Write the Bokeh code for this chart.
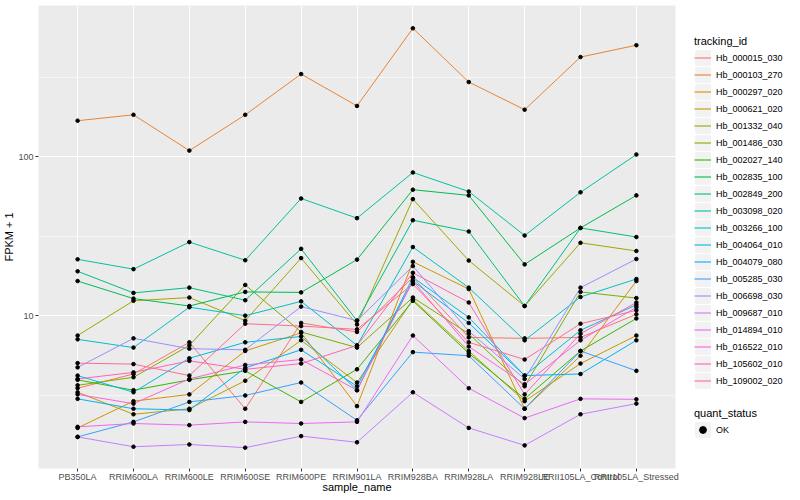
from bokeh.plotting import figure
from bokeh.models import Range1d, FactorRange, FixedTicker, Legend, LegendItem
from bokeh.layouts import row
from bokeh.embed import file_html
from bokeh.resources import INLINE

samples = ["PB350LA", "RRIM600LA", "RRIM600LE", "RRIM600SE", "RRIM600PE", "RRIM901LA",
           "RRIM928BA", "RRIM928LA", "RRIM928LE", "RRII105LA_Control", "RRII105LA_Stressed"]

tracking_ids = ["Hb_000015_030", "Hb_000103_270", "Hb_000297_020", "Hb_000621_020",
                "Hb_001332_040", "Hb_001486_030", "Hb_002027_140", "Hb_002835_100",
                "Hb_002849_200", "Hb_003098_020", "Hb_003266_100", "Hb_004064_010",
                "Hb_004079_080", "Hb_005285_030", "Hb_006698_030", "Hb_009687_010",
                "Hb_014894_010", "Hb_016522_010", "Hb_105602_010", "Hb_109002_020"]

colors = ["#F8766D", "#EA8331", "#D89000", "#C09B00", "#A3A500", "#7CAE00", "#39B600",
          "#00BB4E", "#00BF7D", "#00C1A3", "#00BFC4", "#00BAE0", "#00B0F6", "#35A2FF",
          "#9590FF", "#C77CFF", "#E76BF3", "#FA62DB", "#FF62BC", "#FF6C91"]

Hb_000015_030 = [3.5, 4.3, 6.8, 2.6, 9.0, 7.9, 17.4, 7.3, 7.2, 7.3, 10.2]
Hb_000103_270 = [168, 183, 109, 183, 330, 208, 640, 294, 197, 422, 501]
Hb_000297_020 = [1.97, 2.9, 3.2, 6.0, 7.8, 2.7, 21.8, 14.7, 2.6, 5.6, 16.5]
Hb_000621_020 = [3.3, 2.4, 2.6, 3.9, 7.0, 3.8, 12.6, 6.0, 2.9, 5.0, 7.5]
Hb_001332_040 = [7.5, 12.4, 13.0, 9.3, 23.0, 8.8, 54.0, 22.2, 11.5, 28.7, 25.5]
Hb_001486_030 = [3.65, 4.1, 6.5, 15.6, 7.9, 6.3, 13.0, 7.7, 3.6, 14.1, 12.9]
Hb_002027_140 = [3.95, 3.4, 3.95, 4.5, 2.87, 4.6, 12.4, 5.8, 3.0, 6.0, 9.6]
Hb_002835_100 = [16.5, 12.8, 11.5, 14.1, 14.0, 22.5, 61.9, 57.0, 21.0, 35.6, 57.0]
Hb_002849_200 = [19.0, 13.9, 15.0, 12.5, 26.3, 9.3, 39.8, 33.8, 11.5, 35.6, 31.2]
Hb_003098_020 = [22.6, 19.6, 29.0, 22.3, 54.5, 41.0, 79.4, 60.3, 31.9, 59.6, 103]
Hb_003266_100 = [7.1, 6.3, 11.3, 10.0, 12.3, 6.5, 27.0, 15.0, 7.0, 13.1, 17.0]
Hb_004064_010 = [4.2, 3.3, 5.4, 6.8, 7.4, 3.4, 17.4, 9.75, 4.2, 8.1, 11.7]
Hb_004079_080 = [3.0, 2.6, 2.55, 4.7, 6.1, 3.6, 16.5, 9.0, 4.2, 4.3, 7.0]
Hb_005285_030 = [1.73, 2.15, 2.87, 3.15, 3.8, 2.2, 5.9, 5.6, 2.6, 6.0, 4.5]
Hb_006698_030 = [4.73, 7.2, 6.2, 6.1, 11.4, 9.3, 20.5, 8.0, 4.0, 15.0, 22.7]
Hb_009687_010 = [1.73, 1.5, 1.55, 1.48, 1.75, 1.6, 3.3, 1.97, 1.53, 2.4, 2.8]
Hb_014894_010 = [2.0, 2.1, 2.05, 2.15, 2.1, 2.15, 7.5, 3.5, 2.27, 3.0, 2.98]
Hb_016522_010 = [3.2, 2.8, 4.0, 4.9, 5.3, 3.4, 16.5, 6.4, 3.7, 7.0, 11.3]
Hb_105602_010 = [4.0, 4.4, 5.2, 4.6, 5.0, 6.5, 18.6, 12.1, 3.2, 7.7, 12.1]
Hb_109002_020 = [5.03, 4.96, 4.2, 8.9, 8.6, 8.2, 15.8, 6.8, 5.3, 8.9, 10.8]

series = [Hb_000015_030, Hb_000103_270, Hb_000297_020, Hb_000621_020, Hb_001332_040,
          Hb_001486_030, Hb_002027_140, Hb_002835_100, Hb_002849_200, Hb_003098_020,
          Hb_003266_100, Hb_004064_010, Hb_004079_080, Hb_005285_030, Hb_006698_030,
          Hb_009687_010, Hb_014894_010, Hb_016522_010, Hb_105602_010, Hb_109002_020]

y_ticks = [10, 100]
y_minor = [3.1623, 31.623, 316.23]

FONT = "Liberation Sans"
TOP, BOTTOM = 5, 28

p = figure(width=682, height=496,
           x_range=FactorRange(factors=samples, range_padding=0.2, range_padding_units="absolute"),
           y_axis_type="log", y_range=Range1d(1.095, 890),
           output_backend="svg", toolbar_location=None,
           min_border_left=32, min_border_right=7, min_border_top=TOP, min_border_bottom=BOTTOM)
p.background_fill_color = "#EBEBEB"
p.border_fill_color = "white"
p.outline_line_color = None

for vals, c in zip(series, colors):
    p.line(samples, vals, line_color=c, line_width=1.0)

all_x = [s for vals in series for s in samples]
all_y = [v for vals in series for v in vals]
p.scatter(all_x, all_y, size=3.6, color="black", marker="circle")

p.yaxis.ticker = FixedTicker(ticks=y_ticks, minor_ticks=y_minor)
p.yaxis.major_label_overrides = {10: "10", 100: "100"}
p.ygrid.grid_line_color = "white"
p.ygrid.grid_line_width = 1.1
p.ygrid.minor_grid_line_color = "white"
p.ygrid.minor_grid_line_width = 0.55
p.xgrid.grid_line_color = "white"
p.xgrid.grid_line_width = 1.1

for ax in (p.xaxis, p.yaxis):
    ax.axis_line_color = None
    ax.major_tick_line_color = "#333333"
    ax.major_tick_in = 0
    ax.major_tick_out = 3
    ax.minor_tick_line_color = None
    ax.major_label_text_font = FONT
    ax.major_label_text_font_size = "9px"
    ax.major_label_text_color = "#4D4D4D"
    ax.axis_label_text_font = FONT
    ax.axis_label_text_font_size = "11px"
    ax.axis_label_text_font_style = "normal"
    ax.axis_label_text_color = "black"

p.xaxis.axis_label = "sample_name"
p.yaxis.axis_label = "FPKM + 1"
p.xaxis.major_label_standoff = 0
p.xaxis.axis_label_standoff = -4
p.yaxis.major_label_standoff = 1
p.yaxis.axis_label_standoff = 0

# legend panel
lg = figure(width=106, height=496, x_range=(0, 1), y_range=(0, 1),
            output_backend="svg", toolbar_location=None,
            x_axis_location=None, y_axis_location=None,
            min_border_left=0, min_border_right=0, min_border_top=TOP, min_border_bottom=BOTTOM)
lg.outline_line_color = None
lg.background_fill_color = "white"
lg.border_fill_color = "white"
lg.grid.visible = False

box = lg.rect(x=[5], y=[5], width=1, height=1, fill_color="#F2F2F2",
              line_color="#F2F2F2", line_width=2.5)
items = []
for tid, c in zip(tracking_ids, colors):
    r = lg.line(x=[5, 6], y=[5, 6], line_color=c, line_width=1.1)
    items.append(LegendItem(label=tid, renderers=[box, r]))

pt = lg.scatter(x=[5], y=[5], size=4, color="black", marker="circle")


def style(leg):
    leg.margin = 0
    leg.padding = 0
    leg.spacing = 0
    leg.glyph_width = 17
    leg.glyph_height = 17
    leg.label_height = 17
    leg.label_standoff = 5
    leg.label_text_font = FONT
    leg.label_text_font_size = "9px"
    leg.label_text_color = "black"
    leg.title_text_font = FONT
    leg.title_text_font_size = "11px"
    leg.title_text_font_style = "normal"
    leg.title_text_color = "black"
    leg.title_standoff = 2
    leg.border_line_color = None
    leg.background_fill_alpha = 0


leg1 = Legend(items=items, location=(12, 79), title="tracking_id")
style(leg1)
lg.add_layout(leg1)

leg2 = Legend(items=[LegendItem(label="OK", renderers=[box, pt])],
              location=(12, 30), title="quant_status")
style(leg2)
lg.add_layout(leg2)

layout = row(p, lg)
open("out.html", "w").write(file_html(layout, INLINE))
